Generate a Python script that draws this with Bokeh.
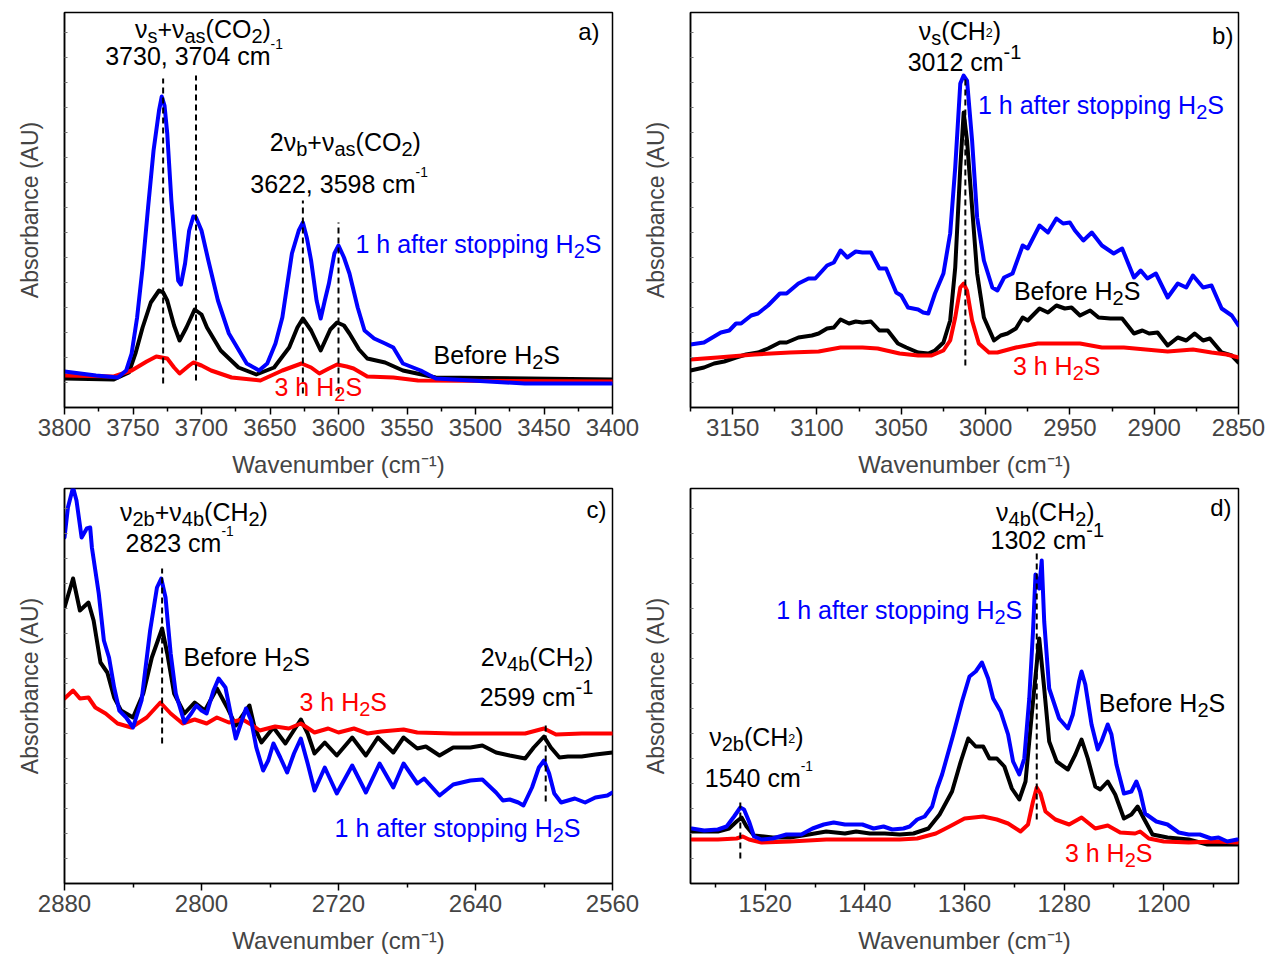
from bokeh.plotting import figure
from bokeh.models import Range1d, FixedTicker, Label
from bokeh.layouts import column, row
from bokeh.embed import file_html
from bokeh.resources import INLINE

# ---------------- data (wavenumber in cm-1, absorbance in arbitrary units) ----------------
# panel a) CO2 combination bands
a_blue_wn = [3800, 3777, 3761, 3755, 3751, 3747, 3743, 3739, 3735, 3731, 3729, 3727, 3725, 3722, 3719, 3717, 3715, 3712, 3709, 3706,
             3704, 3700, 3695, 3688, 3680, 3667, 3658, 3652, 3646, 3641, 3634, 3629, 3626, 3623, 3620, 3616, 3613, 3610, 3607, 3603,
             3600, 3596, 3592, 3586, 3581, 3574, 3566, 3560, 3553, 3540, 3529, 3503, 3464, 3400]
a_blue_ab = [0.36, 0.32, 0.30, 0.37, 0.54, 0.90, 1.40, 2.00, 2.57, 2.97, 3.11, 3.02, 2.74, 2.07, 1.57, 1.27, 1.23, 1.44, 1.77, 1.91,
             1.90, 1.77, 1.47, 1.07, 0.74, 0.44, 0.37, 0.44, 0.64, 0.90, 1.54, 1.77, 1.85, 1.69, 1.47, 1.07, 0.89, 1.07, 1.24, 1.54,
             1.62, 1.50, 1.34, 1.00, 0.77, 0.69, 0.64, 0.60, 0.44, 0.37, 0.29, 0.27, 0.24, 0.24]
a_black_wn = [3800, 3764, 3753, 3748, 3743, 3737, 3731, 3728, 3725, 3720, 3716, 3711, 3705, 3700, 3696, 3686, 3673, 3660, 3647, 3636,
              3630, 3626, 3620, 3613, 3606, 3601, 3596, 3592, 3585, 3579, 3566, 3553, 3529, 3400]
a_black_ab = [0.29, 0.28, 0.35, 0.55, 0.80, 1.05, 1.17, 1.15, 1.07, 0.82, 0.67, 0.80, 0.98, 0.93, 0.80, 0.57, 0.40, 0.33, 0.40, 0.60,
              0.80, 0.89, 0.77, 0.57, 0.78, 0.85, 0.82, 0.74, 0.58, 0.49, 0.45, 0.37, 0.30, 0.28]
a_red_wn = [3800, 3764, 3751, 3740, 3733, 3729, 3725, 3720, 3716, 3709, 3706, 3700, 3693, 3678, 3657, 3641, 3627, 3620, 3614, 3607,
            3601, 3594, 3589, 3579, 3560, 3542, 3400]
a_red_ab = [0.32, 0.31, 0.37, 0.46, 0.51, 0.50, 0.49, 0.40, 0.34, 0.42, 0.45, 0.42, 0.37, 0.30, 0.27, 0.37, 0.44, 0.40, 0.34, 0.39,
            0.43, 0.41, 0.39, 0.31, 0.30, 0.27, 0.26]

# panel b) CH2 stretching
b_blue_wn = [3175, 3167, 3163, 3157, 3152, 3148, 3145, 3139, 3135, 3129, 3122, 3118, 3111, 3105, 3101, 3094, 3090, 3086, 3082, 3077,
             3073, 3068, 3063, 3059, 3053, 3050, 3046, 3040, 3037, 3034, 3030, 3025, 3021, 3018, 3015, 3013, 3011, 3008, 3005, 3001,
             2996, 2993, 2989, 2984, 2978, 2975, 2968, 2963, 2958, 2954, 2950, 2947, 2942, 2937, 2931, 2924, 2919, 2912, 2908, 2904,
             2899, 2892, 2886, 2881, 2877, 2871, 2866, 2860, 2854, 2850]
b_blue_ab = [0.63, 0.65, 0.69, 0.75, 0.77, 0.84, 0.84, 0.92, 0.94, 1.02, 1.14, 1.14, 1.24, 1.29, 1.29, 1.42, 1.45, 1.57, 1.50, 1.56,
             1.55, 1.55, 1.39, 1.39, 1.15, 1.12, 1.00, 0.98, 0.95, 0.94, 1.14, 1.34, 1.74, 2.40, 3.24, 3.32, 3.27, 2.67, 1.90, 1.47,
             1.20, 1.17, 1.30, 1.34, 1.62, 1.59, 1.82, 1.75, 1.89, 1.84, 1.85, 1.77, 1.67, 1.75, 1.62, 1.54, 1.59, 1.30, 1.37, 1.29,
             1.34, 1.10, 1.24, 1.20, 1.32, 1.20, 1.22, 0.99, 0.92, 0.82]
b_black_wn = [3175, 3167, 3161, 3155, 3148, 3142, 3135, 3129, 3122, 3118, 3111, 3103, 3099, 3094, 3090, 3086, 3081, 3077, 3073, 3068,
              3063, 3058, 3052, 3047, 3040, 3034, 3030, 3025, 3021, 3018, 3015, 3013, 3011, 3008, 3005, 3001, 2995, 2991, 2987, 2982,
              2978, 2975, 2968, 2963, 2958, 2953, 2949, 2944, 2938, 2933, 2926, 2919, 2912, 2907, 2903, 2898, 2892, 2886, 2881, 2876,
              2871, 2867, 2860, 2854, 2850]
b_black_ab = [0.37, 0.40, 0.44, 0.46, 0.50, 0.53, 0.55, 0.59, 0.65, 0.65, 0.70, 0.72, 0.74, 0.79, 0.80, 0.88, 0.84, 0.86, 0.85, 0.86,
              0.77, 0.77, 0.64, 0.60, 0.55, 0.54, 0.57, 0.65, 0.87, 1.40, 2.40, 2.95, 2.67, 2.00, 1.34, 0.90, 0.67, 0.72, 0.74, 0.79,
              0.90, 0.87, 0.99, 0.95, 1.02, 0.99, 1.00, 0.92, 0.97, 0.90, 0.89, 0.89, 0.74, 0.77, 0.74, 0.75, 0.62, 0.70, 0.67, 0.74,
              0.67, 0.69, 0.55, 0.52, 0.45]
b_red_wn = [3175, 3159, 3137, 3116, 3099, 3086, 3073, 3064, 3051, 3040, 3032, 3025, 3021, 3018, 3015, 3013, 3011, 3008, 3004, 2998,
            2993, 2982, 2969, 2956, 2944, 2931, 2918, 2905, 2892, 2877, 2866, 2857, 2850]
b_red_ab = [0.48, 0.50, 0.53, 0.55, 0.56, 0.60, 0.60, 0.59, 0.54, 0.52, 0.52, 0.57, 0.67, 0.90, 1.20, 1.24, 1.17, 0.87, 0.64, 0.55,
            0.55, 0.60, 0.64, 0.64, 0.64, 0.60, 0.60, 0.58, 0.56, 0.58, 0.55, 0.53, 0.50]

# panel c) CH2 combination / overtone
c_blue_wn = [2880, 2878, 2875, 2873, 2870, 2867, 2865, 2864, 2860, 2857, 2854, 2851, 2848, 2844, 2840, 2835, 2830, 2826, 2823.5, 2821,
             2818, 2815, 2810, 2806, 2803, 2800, 2797, 2793, 2790, 2786, 2783, 2780, 2777, 2774, 2771, 2768, 2764, 2761, 2758, 2754,
             2750, 2746, 2742, 2738, 2734, 2728, 2721, 2712, 2704, 2696, 2688, 2682, 2674, 2670, 2661, 2653, 2643, 2636, 2628, 2624,
             2620, 2615, 2612, 2607, 2603, 2600, 2597, 2594, 2590, 2586, 2582, 2576, 2570, 2563, 2560]
c_blue_ab = [3.46, 3.76, 3.96, 3.83, 3.46, 3.55, 3.56, 3.36, 2.90, 2.43, 2.26, 1.96, 1.73, 1.66, 1.56, 1.83, 2.53, 2.96, 3.05, 2.86,
             2.30, 1.90, 1.61, 1.70, 1.78, 1.73, 1.70, 1.93, 2.05, 1.96, 1.70, 1.45, 1.60, 1.75, 1.63, 1.36, 1.13, 1.23, 1.40, 1.26,
             1.11, 1.30, 1.45, 1.20, 0.93, 1.16, 0.90, 1.18, 0.91, 1.20, 0.96, 1.20, 1.00, 1.05, 0.88, 0.99, 1.03, 1.04, 0.91, 0.83,
             0.84, 0.81, 0.78, 0.96, 1.16, 1.23, 1.10, 0.90, 0.81, 0.83, 0.85, 0.81, 0.86, 0.88, 0.91]
c_black_wn = [2880, 2875, 2871, 2866, 2863, 2859, 2855, 2851, 2847, 2840, 2834, 2829, 2823, 2820, 2816, 2810, 2804, 2798, 2791, 2785,
              2780, 2772, 2769, 2765, 2758, 2751, 2742, 2738, 2734, 2728, 2721, 2712, 2704, 2697, 2688, 2682, 2674, 2669, 2661, 2653,
              2643, 2636, 2628, 2620, 2611, 2606, 2600, 2596, 2591, 2586, 2578, 2570, 2560]
c_black_ab = [2.76, 3.05, 2.73, 2.81, 2.63, 2.21, 2.11, 1.86, 1.73, 1.66, 1.90, 2.26, 2.55, 2.30, 1.90, 1.70, 1.81, 1.73, 1.95, 1.76,
              1.58, 1.78, 1.56, 1.41, 1.56, 1.40, 1.64, 1.50, 1.30, 1.41, 1.28, 1.46, 1.28, 1.46, 1.31, 1.46, 1.35, 1.37, 1.28, 1.36,
              1.36, 1.38, 1.31, 1.28, 1.25, 1.36, 1.47, 1.36, 1.26, 1.27, 1.27, 1.29, 1.31]
c_red_wn = [2880, 2875, 2871, 2866, 2862, 2856, 2849, 2841, 2832, 2824, 2818, 2811, 2804, 2797, 2791, 2784, 2776, 2770, 2766, 2757,
            2749, 2742, 2734, 2726, 2720, 2711, 2703, 2695, 2682, 2674, 2653, 2632, 2611, 2600, 2593, 2578, 2560]
c_red_ab = [1.85, 1.93, 1.85, 1.86, 1.76, 1.70, 1.60, 1.56, 1.66, 1.81, 1.70, 1.60, 1.64, 1.60, 1.66, 1.61, 1.64, 1.58, 1.53, 1.57,
            1.55, 1.60, 1.51, 1.55, 1.51, 1.55, 1.50, 1.52, 1.54, 1.51, 1.50, 1.50, 1.50, 1.55, 1.49, 1.50, 1.50]

# panel d) CH2 bending
d_blue_wn = [1579, 1569, 1558, 1551, 1545, 1540, 1537, 1533, 1529, 1523, 1514, 1503, 1491, 1482, 1473, 1465, 1456, 1442, 1433, 1425,
             1418, 1409, 1404, 1398, 1392, 1386, 1382, 1378, 1369, 1362, 1356, 1351, 1346, 1341, 1337, 1331, 1325, 1321, 1316, 1312,
             1308, 1305, 1303, 1300, 1298, 1296, 1292, 1284, 1277, 1273, 1268, 1266, 1263, 1258, 1253, 1250, 1245, 1242, 1238, 1232,
             1226, 1222, 1219, 1215, 1206, 1197, 1188, 1180, 1171, 1162, 1156, 1149, 1141]
d_blue_ab = [0.55, 0.53, 0.54, 0.57, 0.67, 0.76, 0.74, 0.62, 0.47, 0.44, 0.45, 0.49, 0.49, 0.55, 0.59, 0.61, 0.59, 0.59, 0.55, 0.57,
             0.54, 0.55, 0.57, 0.64, 0.67, 0.77, 0.95, 1.09, 1.49, 1.82, 2.07, 2.12, 2.21, 2.05, 1.85, 1.72, 1.49, 1.22, 1.09, 1.25,
             1.85, 2.52, 3.09, 2.95, 3.23, 2.62, 1.95, 1.65, 1.55, 1.69, 2.02, 2.12, 1.99, 1.59, 1.34, 1.42, 1.59, 1.49, 1.19, 0.90,
             0.92, 1.02, 0.92, 0.70, 0.62, 0.59, 0.51, 0.49, 0.49, 0.45, 0.46, 0.42, 0.44]
d_black_wn = [1579, 1558, 1549, 1543, 1539, 1535, 1529, 1514, 1500, 1485, 1471, 1456, 1447, 1436, 1424, 1412, 1401, 1389, 1380, 1370,
              1363, 1357, 1351, 1345, 1340, 1334, 1328, 1322, 1316, 1311, 1306, 1300, 1296, 1292, 1286, 1277, 1271, 1266, 1261, 1255,
              1251, 1245, 1239, 1232, 1226, 1221, 1216, 1209, 1197, 1180, 1165, 1154, 1141]
d_black_ab = [0.52, 0.52, 0.55, 0.62, 0.66, 0.57, 0.48, 0.46, 0.46, 0.49, 0.52, 0.50, 0.52, 0.50, 0.50, 0.49, 0.50, 0.55, 0.69, 0.92,
              1.22, 1.45, 1.37, 1.37, 1.25, 1.25, 1.17, 0.95, 0.84, 1.02, 1.69, 2.45, 1.95, 1.42, 1.22, 1.14, 1.29, 1.44, 1.25, 0.97,
              0.94, 1.02, 0.89, 0.65, 0.69, 0.77, 0.65, 0.49, 0.46, 0.44, 0.39, 0.39, 0.39]
d_red_wn = [1579, 1558, 1543, 1538, 1533, 1523, 1500, 1471, 1442, 1412, 1398, 1383, 1372, 1360, 1345, 1334, 1325, 1315, 1309, 1305,
            1302, 1299, 1295, 1287, 1276, 1266, 1255, 1245, 1235, 1223, 1219, 1212, 1200, 1180, 1159, 1141]
d_red_ab = [0.44, 0.44, 0.45, 0.47, 0.44, 0.41, 0.42, 0.44, 0.44, 0.44, 0.45, 0.50, 0.57, 0.65, 0.67, 0.64, 0.60, 0.52, 0.59, 0.82,
            0.96, 0.90, 0.72, 0.64, 0.59, 0.66, 0.55, 0.58, 0.51, 0.50, 0.52, 0.45, 0.42, 0.41, 0.42, 0.41]

# x-axis tick labels (major) and minor tick positions
a_ticks = [3800, 3750, 3700, 3650, 3600, 3550, 3500, 3450, 3400]
a_minor = [3775, 3725, 3675, 3625, 3575, 3525, 3475, 3425]
b_ticks = [3150, 3100, 3050, 3000, 2950, 2900, 2850]
b_minor = [3175, 3125, 3075, 3025, 2975, 2925, 2875]
c_ticks = [2880, 2800, 2720, 2640, 2560]
c_minor = [2840, 2760, 2680, 2600]
d_ticks = [1520, 1440, 1360, 1280, 1200]
d_minor = [1560, 1480, 1400, 1320, 1240, 1160]

# band markers (dashed lines): position, lower and upper absorbance of the marker
a_marks = [3728, 3704, 3626, 3600]
a_mark_lo = [0.24, 0.27, 0.14, 0.14]
a_mark_hi = [3.29, 3.32, 2.07, 1.85]
b_marks = [3012]
b_mark_lo = [0.42]
b_mark_hi = [3.32]
c_marks = [2823, 2599]
c_mark_lo = [1.40, 0.82]
c_mark_hi = [3.15, 1.59]
d_marks = [1302, 1540]
d_mark_lo = [0.64, 0.25]
d_mark_hi = [3.30, 0.85]

# ---------------- styling ----------------
BLUE, RED, BLACK = "#0000FF", "#FF0000", "#000000"
FONT = "Liberation Sans"
CW = {' ': 278, '(': 333, ')': 333, '+': 584, ',': 278, '-': 333, '.': 278,
      'a': 556, 'b': 556, 'c': 500, 'd': 556, 'e': 556, 'f': 278, 'g': 556, 'h': 556, 'i': 222,
      'm': 833, 'n': 556, 'o': 556, 'p': 556, 'r': 333, 's': 500, 't': 278, 'u': 556,
      'A': 667, 'B': 667, 'C': 722, 'H': 722, 'O': 778, 'S': 667, 'U': 722, 'W': 944, 'ν': 500}
STY = {"n": (1.0, 0.0), "b": (0.8, -0.3), "t": (0.5, -0.08), "p": (0.55, 0.45), "P": (0.8, 0.4)}
TEXT_LIFT = 10  # px correction of the text baseline


def tw(s, fs):
    return sum(CW.get(ch, 556) for ch in s) * fs / 1000.0


def rich(p, x, y, segs, color=BLACK, align="center", size=25):
    parts, cur = [], 0.0
    for txt, k in segs:
        sc, dy = STY[k]
        fs = size * sc
        parts.append((txt, fs, dy * size, cur))
        cur += tw(txt, fs)
    start = {"left": 0.0, "center": -cur / 2.0, "right": -cur}[align]
    for txt, fs, dy, off in parts:
        p.add_layout(Label(x=x, y=y, x_offset=start + off, y_offset=dy + TEXT_LIFT, text=txt,
                           text_font=FONT, text_font_size=f"{fs:.1f}px", text_color=color,
                           text_align="left", text_baseline="alphabetic"))


def make_fig(xr, ticks, minor, width, height, bl, br, bt, bb):
    p = figure(width=width, height=height, x_range=Range1d(*xr), y_range=Range1d(0, 3.95),
               output_backend="svg", toolbar_location=None,
               min_border_left=bl, min_border_right=br, min_border_top=bt, min_border_bottom=bb)
    p.xgrid.visible = False
    p.ygrid.visible = False
    p.outline_line_color = "black"
    p.outline_line_width = 1.5
    p.background_fill_color = "white"
    p.border_fill_color = "white"
    xa = p.xaxis[0]
    xa.ticker = FixedTicker(ticks=ticks, minor_ticks=minor)
    xa.axis_label = "Wavenumber (cm⁻¹)"
    xa.axis_label_text_font = FONT
    xa.axis_label_text_font_size = "24px"
    xa.axis_label_text_font_style = "normal"
    xa.axis_label_standoff = 12
    xa.major_label_text_font = FONT
    xa.major_label_text_font_size = "24px"
    xa.major_label_standoff = 4
    xa.major_tick_out = 7
    xa.major_tick_in = 0
    xa.minor_tick_out = 4
    xa.minor_tick_in = 0
    xa.axis_line_width = 1.5
    xa.major_tick_line_width = 1.5
    xa.minor_tick_line_width = 1.5
    ya = p.yaxis[0]
    # unlabelled y axis: only small (label-free) minor ticks
    ya.ticker = FixedTicker(ticks=[], minor_ticks=[0.25 * i for i in range(1, 16)])
    ya.major_label_standoff = 0
    ya.major_tick_in = 0
    ya.major_tick_out = 0
    ya.minor_tick_in = 3
    ya.minor_tick_out = 0
    ya.minor_tick_line_color = "#777777"
    ya.axis_line_width = 1.5
    ya.axis_label = "Absorbance (AU)"
    ya.axis_label_text_font = FONT
    ya.axis_label_text_font_size = "23px"
    ya.axis_label_text_font_style = "normal"
    ya.axis_label_standoff = 22
    return p


def curves(p, series):
    for wn, ab, col in series:
        p.line(wn, ab, line_color=col, line_width=4, line_join="round", line_cap="round")


def marks(p, xs, lo, hi):
    p.segment(x0=xs, y0=lo, x1=xs, y1=hi, line_color="black", line_width=2, line_dash="6 4")


# ---------------- panel a ----------------
pa = make_fig((3800, 3400), a_ticks, a_minor, 639, 482, 64, 27, 12, 75)
curves(pa, [(a_black_wn, a_black_ab, BLACK), (a_red_wn, a_red_ab, RED), (a_blue_wn, a_blue_ab, BLUE)])
marks(pa, a_marks, a_mark_lo, a_mark_hi)
rich(pa, 3699, 3.69, [("ν", "n"), ("s", "b"), ("+ν", "n"), ("as", "b"), ("(CO", "n"), ("2", "b"), (")", "n")])
rich(pa, 3705.5, 3.42, [("3730, 3704 cm", "n"), ("-1", "p")])
rich(pa, 3595, 2.56, [("2ν", "n"), ("b", "b"), ("+ν", "n"), ("as", "b"), ("(CO", "n"), ("2", "b"), (")", "n")])
rich(pa, 3599.6, 2.14, [("3622, 3598 cm", "n"), ("-1", "p")])
rich(pa, 3587.6, 1.54, [("1 h after stopping H", "n"), ("2", "b"), ("S", "n")], BLUE, "left")
rich(pa, 3530.6, 0.43, [("Before H", "n"), ("2", "b"), ("S", "n")], BLACK, "left")
rich(pa, 3646.7, 0.11, [("3 h H", "n"), ("2", "b"), ("S", "n")], RED, "left")
rich(pa, 3409.5, 3.66, [("a)", "n")], BLACK, "right", 24)

# ---------------- panel b ----------------
pb = make_fig((3175, 2850), b_ticks, b_minor, 628, 482, 50, 29, 12, 75)
curves(pb, [(b_black_wn, b_black_ab, BLACK), (b_blue_wn, b_blue_ab, BLUE), (b_red_wn, b_red_ab, RED)])
marks(pb, b_marks, b_mark_lo, b_mark_hi)
rich(pb, 3015.2, 3.67, [("ν", "n"), ("s", "b"), ("(CH", "n"), ("2", "t"), (")", "n")])
rich(pb, 3012.5, 3.36, [("3012 cm", "n"), ("-1", "P")])
rich(pb, 3004.5, 2.93, [("1 h after stopping H", "n"), ("2", "b"), ("S", "n")], BLUE, "left")
rich(pb, 2983.2, 1.07, [("Before H", "n"), ("2", "b"), ("S", "n")], BLACK, "left")
rich(pb, 2983.8, 0.32, [("3 h H", "n"), ("2", "b"), ("S", "n")], RED, "left")
rich(pb, 2853, 3.62, [("b)", "n")], BLACK, "right", 24)

# ---------------- panel c ----------------
pc = make_fig((2880, 2560), c_ticks, c_minor, 639, 475, 64, 27, 6, 74)
curves(pc, [(c_black_wn, c_black_ab, BLACK), (c_red_wn, c_red_ab, RED), (c_blue_wn, c_blue_ab, BLUE)])
marks(pc, c_marks, c_mark_lo, c_mark_hi)
rich(pc, 2804.4, 3.62, [("ν", "n"), ("2b", "b"), ("+ν", "n"), ("4b", "b"), ("(CH", "n"), ("2", "b"), (")", "n")])
rich(pc, 2812.8, 3.31, [("2823 cm", "n"), ("-1", "p")])
rich(pc, 2810.5, 2.17, [("Before H", "n"), ("2", "b"), ("S", "n")], BLACK, "left")
rich(pc, 2742.8, 1.72, [("3 h H", "n"), ("2", "b"), ("S", "n")], RED, "left")
rich(pc, 2604.1, 2.17, [("2ν", "n"), ("4b", "b"), ("(CH", "n"), ("2", "b"), (")", "n")])
rich(pc, 2604.4, 1.77, [("2599 cm", "n"), ("-1", "P")])
rich(pc, 2722.3, 0.46, [("1 h after stopping H", "n"), ("2", "b"), ("S", "n")], BLUE, "left")
rich(pc, 2563.5, 3.64, [("c)", "n")], BLACK, "right", 24)

# ---------------- panel d ----------------
pd = make_fig((1580, 1140), d_ticks, d_minor, 628, 475, 50, 29, 6, 74)
curves(pd, [(d_black_wn, d_black_ab, BLACK), (d_red_wn, d_red_ab, RED), (d_blue_wn, d_blue_ab, BLUE)])
marks(pd, d_marks, d_mark_lo, d_mark_hi)
rich(pd, 1295.1, 3.62, [("ν", "n"), ("4b", "b"), ("(CH", "n"), ("2", "b"), (")", "n")])
rich(pd, 1293.5, 3.34, [("1302 cm", "n"), ("-1", "P")])
rich(pd, 1511.1, 2.64, [("1 h after stopping H", "n"), ("2", "b"), ("S", "n")], BLUE, "left")
rich(pd, 1252.2, 1.71, [("Before H", "n"), ("2", "b"), ("S", "n")], BLACK, "left")
rich(pd, 1527.1, 1.37, [("ν", "n"), ("2b", "b"), ("(CH", "n"), ("2", "t"), (")", "n")])
rich(pd, 1525.1, 0.96, [("1540 cm", "n"), ("-1", "p")])
rich(pd, 1279.4, 0.21, [("3 h H", "n"), ("2", "b"), ("S", "n")], RED, "left")
rich(pd, 1145.6, 3.66, [("d)", "n")], BLACK, "right", 24)

layout = column(row(pa, pb), row(pc, pd))
open("out.html", "w").write(file_html(layout, INLINE, "IR spectra"))
